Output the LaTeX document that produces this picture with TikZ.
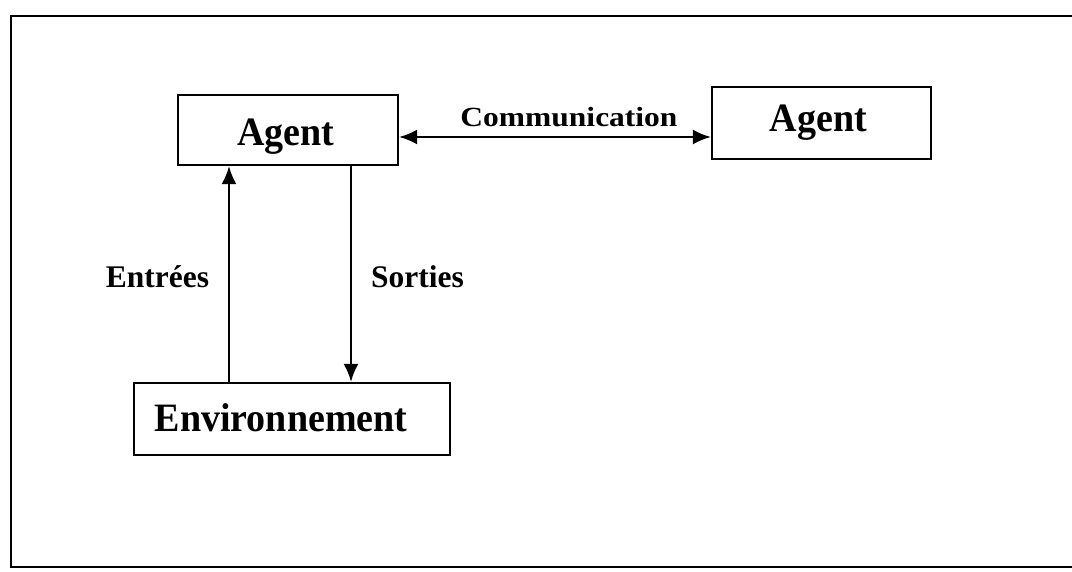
\documentclass[tikz,border=0pt]{standalone}
\usepackage{fontspec}
\setmainfont{Liberation Serif}
\usetikzlibrary{arrows.meta}
\begin{document}
\begin{tikzpicture}[x=1pt,y=1pt,
  boxnode/.style={draw, line width=2.2pt, inner sep=0pt},
  boxtext/.style={font=\fontsize{38}{40}\selectfont\bfseries, inner sep=0pt, anchor=base, yscale=1.06},
  edgetext/.style={font=\fontsize{31.5}{34}\selectfont\bfseries, inner sep=0pt, anchor=base},
  tip/.tip={Latex[length=18pt,width=15pt]},
  flow/.style={line width=2.2pt, -tip},
  flowboth/.style={line width=2.2pt, tip-tip}]
\useasboundingbox (0,0) rectangle (1072,571);
% outer frame
\draw[line width=2.6pt] (11,4) rectangle (1080,555);
% boxes
\node[boxnode, minimum width=220pt, minimum height=70pt] (agentA) at (288,441) {};
\node[boxnode, minimum width=219pt, minimum height=72pt] (agentB) at (821.5,448) {};
\node[boxnode, minimum width=316pt, minimum height=72pt] (env) at (292,152) {};
% box texts
\node[boxtext] (agentAtxt) at (286,425) {Agent};
\node[boxtext] (agentBtxt) at (818.5,439) {Agent};
\node[boxtext] (envtxt) at (281,139) {Environnement};
% connectors
\draw[flowboth] (agentA.east |- 0,434) -- (agentB.west |- 0,434);
\draw[flow] (env.north -| 229,0) -- (agentA.south -| 229,0);
\draw[flow] (agentA.south -| 351,0) -- (env.north -| 351,0);
% connector labels
\node[edgetext, yscale=0.88] (comm) at (569,444) {Communication};
\node[edgetext] (entrees) at (157.5,283) {Entrées};
\node[edgetext] (sorties) at (417.5,283) {Sorties};
\end{tikzpicture}
\end{document}
